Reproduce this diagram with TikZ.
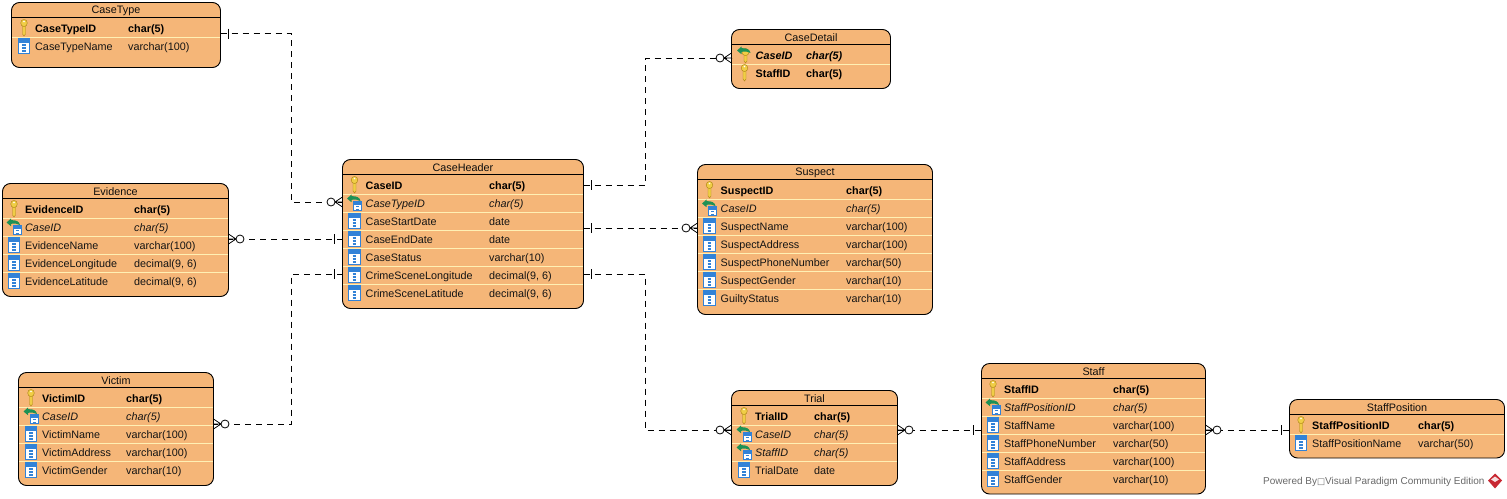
\documentclass[tikz,border=0pt]{standalone}
\usepackage{fontspec}
\setmainfont{Liberation Sans}
\newfontfamily\dvfont{DejaVu Sans}
\usetikzlibrary{calc}
\definecolor{bodyor}{RGB}{245,182,120}
\definecolor{seprow}{RGB}{255,240,180}
\definecolor{keyyel}{RGB}{240,205,70}
\definecolor{keyedge}{RGB}{170,130,20}
\definecolor{colblue}{RGB}{50,130,215}
\definecolor{fkgreen}{RGB}{30,145,85}
\definecolor{wmgray}{RGB}{105,105,105}
\definecolor{logored}{RGB}{200,40,50}
\tikzset{
  x=1pt,y=-1pt,
  entity/.style={draw=black,line width=0.9pt,fill=bodyor,rounded corners=8pt,inner sep=0pt,outer sep=0pt,anchor=north west},
  ttl/.style={font=\fontsize{10.8}{12}\selectfont,inner sep=0pt,anchor=center,text=black!95},
  rowcol/.style={font=\fontsize{10.8}{12}\selectfont,inner sep=0pt,anchor=base west,text=black!92},
  rowpk/.style={font=\fontsize{10.8}{12}\selectfont\bfseries,inner sep=0pt,anchor=base west,text=black},
  rowfk/.style={font=\fontsize{10.8}{12}\selectfont\itshape,inner sep=0pt,anchor=base west,text=black!92},
  rowpf/.style={font=\fontsize{10.8}{12}\selectfont\bfseries\itshape,inner sep=0pt,anchor=base west,text=black},
  conn/.style={draw=black,line width=0.8pt,dash pattern=on 6pt off 5pt},
  endmark/.style={draw=black,line width=0.8pt},
  icopk/.pic={
    \draw[keyedge,fill=keyyel,line width=0.4pt] (-1.5,-3) -- (-1.5,6) -- (0,8) -- (1.5,6) -- (1.5,-3) -- cycle;
    \draw[keyedge,fill=keyyel,line width=0.4pt] (0,-5) ellipse (3.3 and 3.6);
    \fill[white] (0,-6.5) circle (0.9);
  },
  icocol/.pic={
    \fill[white] (-6,-8) rectangle (6,8);
    \fill[colblue] (-6,-8) rectangle (6,-3.5);
    \draw[colblue,line width=0.9pt] (-5.6,-8) rectangle (5.6,7.6);
    \draw[colblue,line width=1.2pt] (-1.8,-1) -- (1.8,-1) (-1.8,2) -- (1.8,2) (-1.8,5) -- (1.8,5);
  },
  icofk/.pic={
    \fill[white] (-1,-1.5) rectangle (7.5,8);
    \fill[colblue] (-1,-1.5) rectangle (7.5,1.5);
    \draw[colblue,line width=0.7pt] (-0.7,-1.5) rectangle (7.2,7.6);
    \draw[colblue,line width=1pt] (1.5,3.5) -- (4.8,3.5) (1.5,6) -- (4.8,6);
    \fill[fkgreen] (-7.5,-4.5) -- (-3,-8.5) -- (-3,-6.8) .. controls (2,-7.2) and (5.5,-5.5) .. (6,-2)
       .. controls (3,-3.8) and (0,-3.8) .. (-3,-3.2) -- (-3,-0.8) -- cycle;
  },
  icopf/.pic={
    \draw[keyedge,fill=keyyel,line width=0.4pt] (-0.5,-2) -- (-0.5,6) -- (1,8) -- (2.5,6) -- (2.5,-2) -- cycle;
    \draw[keyedge,fill=keyyel,line width=0.4pt] (1,-3) ellipse (3.6 and 3.6);
    \fill[fkgreen] (-7.5,-4.5) -- (-3,-8.5) -- (-3,-6.8) .. controls (2,-7.2) and (5.5,-5.5) .. (6,-2)
       .. controls (3,-3.8) and (0,-3.8) .. (-3,-3.2) -- (-3,-0.8) -- cycle;
  },
}
% entity: name, x1,y1,x2,y2, title y, text x, type x
\newcommand{\ertable}[8]{%
  \pgfmathsetlengthmacro{\ew}{#4-#2}%
  \pgfmathsetlengthmacro{\eh}{#5-#3}%
  \node[entity,minimum width=\ew,minimum height=\eh] (#1) at (#2,#3) {};
  \node[ttl] (#1-title) at ({(#2+#4)/2},#6+0.9) {#1};
  \draw[black,line width=0.9pt] (#2,#6+7.5) -- (#4,#6+7.5);
  \xdef\erL{#2}\xdef\erR{#4}\xdef\erT{#7}\xdef\erC{#8}%
  \xdef\erName{#1}%
  \pgfmathsetmacro{\tmpy}{#6+18}\xdef\erY{\tmpy}%
  \gdef\erN{0}%
}
% row: kind (pk, fk, col, pf), name, type, draw separator below?
\newcommand{\errow}[4]{%
  \pgfmathtruncatemacro{\tmpn}{\erN+1}\xdef\erN{\tmpn}%
  \ifnum#4=1 \draw[seprow,line width=1pt] (\erL+0.6,\erY+9) -- (\erR-0.6,\erY+9);\fi
  \pic at (\erT-11,\erY) {ico#1};
  \node[row#1] (\erName-\erN) at (\erT,\erY+4.5) {#2};
  \node[row#1] (\erName-\erN-t) at (\erC,\erY+4.5) {#3};
  \pgfmathsetmacro{\tmpy}{\erY+18}\xdef\erY{\tmpy}%
}
% crow's foot with circle at end point (#1), direction sign #2 (+1 = marks lie to the right)
\newcommand{\crowend}[2]{%
  \draw[endmark,fill=white] ($(#1)+(#2*11.5,0)$) circle (4);
  \draw[endmark] ($(#1)+(#2*7.5,0)$) -- ($(#1)+(0,-5)$) ($(#1)+(#2*7.5,0)$) -- ($(#1)+(0,5)$) ($(#1)+(#2*7.5,0)$) -- (#1);
}
\newcommand{\barend}[2]{%
  \draw[endmark] ($(#1)+(#2*8,-5)$) -- ($(#1)+(#2*8,5)$);
}
\begin{document}
\begin{tikzpicture}
\useasboundingbox (0,0) rectangle (1507,498);
\fill[white] (0,0) rectangle (1507,498);

\ertable{CaseType}{11.5}{2.5}{220.5}{67.5}{10}{35}{128}
\errow{pk}{CaseTypeID}{char(5)}{1}
\errow{col}{CaseTypeName}{varchar(100)}{0}

\ertable{CaseDetail}{731.5}{29.5}{890.5}{88.5}{37}{755.5}{806}
\errow{pf}{CaseID}{char(5)}{1}
\errow{pk}{StaffID}{char(5)}{0}

\ertable{Evidence}{2.5}{183.5}{228.5}{296.5}{191}{25}{134}
\errow{pk}{EvidenceID}{char(5)}{1}
\errow{fk}{CaseID}{char(5)}{1}
\errow{col}{EvidenceName}{varchar(100)}{1}
\errow{col}{EvidenceLongitude}{decimal(9, 6)}{1}
\errow{col}{EvidenceLatitude}{decimal(9, 6)}{0}

\ertable{CaseHeader}{342.5}{159.5}{583.5}{308.5}{167}{365.5}{489}
\errow{pk}{CaseID}{char(5)}{1}
\errow{fk}{CaseTypeID}{char(5)}{1}
\errow{col}{CaseStartDate}{date}{1}
\errow{col}{CaseEndDate}{date}{1}
\errow{col}{CaseStatus}{varchar(10)}{1}
\errow{col}{CrimeSceneLongitude}{decimal(9, 6)}{1}
\errow{col}{CrimeSceneLatitude}{decimal(9, 6)}{0}

\ertable{Suspect}{697.5}{164.5}{932.5}{314.5}{172}{720.5}{846}
\errow{pk}{SuspectID}{char(5)}{1}
\errow{fk}{CaseID}{char(5)}{1}
\errow{col}{SuspectName}{varchar(100)}{1}
\errow{col}{SuspectAddress}{varchar(100)}{1}
\errow{col}{SuspectPhoneNumber}{varchar(50)}{1}
\errow{col}{SuspectGender}{varchar(10)}{1}
\errow{col}{GuiltyStatus}{varchar(10)}{0}

\ertable{Victim}{18.5}{372.5}{213.5}{485.5}{380}{42}{126}
\errow{pk}{VictimID}{char(5)}{1}
\errow{fk}{CaseID}{char(5)}{1}
\errow{col}{VictimName}{varchar(100)}{1}
\errow{col}{VictimAddress}{varchar(100)}{1}
\errow{col}{VictimGender}{varchar(10)}{0}

\ertable{Trial}{731.5}{390.5}{897.5}{485.5}{398}{755}{814}
\errow{pk}{TrialID}{char(5)}{1}
\errow{fk}{CaseID}{char(5)}{1}
\errow{fk}{StaffID}{char(5)}{1}
\errow{col}{TrialDate}{date}{0}

\ertable{Staff}{981.5}{363.5}{1205.5}{494}{371}{1004}{1113}
\errow{pk}{StaffID}{char(5)}{1}
\errow{fk}{StaffPositionID}{char(5)}{1}
\errow{col}{StaffName}{varchar(100)}{1}
\errow{col}{StaffPhoneNumber}{varchar(50)}{1}
\errow{col}{StaffAddress}{varchar(100)}{1}
\errow{col}{StaffGender}{varchar(10)}{0}

\ertable{StaffPosition}{1289.5}{399.5}{1504.5}{458}{407}{1312}{1418}
\errow{pk}{StaffPositionID}{char(5)}{1}
\errow{col}{StaffPositionName}{varchar(50)}{0}

% connector ends on the entity borders
\coordinate (a1) at ([yshift=-31pt]CaseType.north east);
\coordinate (a2) at ([yshift=-42.5pt]CaseHeader.north west);
\coordinate (b1) at ([yshift=-25.5pt]CaseHeader.north east);
\coordinate (b2) at ([yshift=-28.5pt]CaseDetail.north west);
\coordinate (c1) at ([yshift=-68.5pt]CaseHeader.north east);
\coordinate (c2) at ([yshift=-63.5pt]Suspect.north west);
\coordinate (d1) at ([yshift=-114.5pt]CaseHeader.north east);
\coordinate (d2) at ([yshift=-39.5pt]Trial.north west);
\coordinate (e1) at ([yshift=-79.5pt]CaseHeader.north west);
\coordinate (e2) at ([yshift=-55.5pt]Evidence.north east);
\coordinate (f1) at ([yshift=-114.5pt]CaseHeader.north west);
\coordinate (f2) at ([yshift=-51.5pt]Victim.north east);
\coordinate (g1) at ([yshift=-39.5pt]Trial.north east);
\coordinate (g2) at ([yshift=-66.5pt]Staff.north west);
\coordinate (h1) at ([yshift=-66.5pt]Staff.north east);
\coordinate (h2) at ([yshift=-30.5pt]StaffPosition.north west);

\draw[conn] (a1) -- (291,33.5) -- (291,202) -- (a2);
\draw[conn] (b1) -- (645,185) -- (645,58) -- (b2);
\draw[conn] (c1) -- (c2);
\draw[conn] (d1) -- (645,274) -- (645,430) -- (d2);
\draw[conn] (e1) -- (e2);
\draw[conn] (f1) -- (291,274) -- (291,424) -- (f2);
\draw[conn] (g1) -- (g2);
\draw[conn] (h1) -- (h2);

\barend{a1}{1} \crowend{a2}{-1}
\barend{b1}{1} \crowend{b2}{-1}
\barend{c1}{1} \crowend{c2}{-1}
\barend{d1}{1} \crowend{d2}{-1}
\barend{e1}{-1} \crowend{e2}{1}
\barend{f1}{-1} \crowend{f2}{1}
\crowend{g1}{1} \barend{g2}{-1}
\crowend{h1}{1} \barend{h2}{-1}

% watermark
\node[inner sep=0pt,anchor=base west,text=wmgray,font=\fontsize{10}{11}\selectfont] (wm) at (1263,484.8) {Powered By{\dvfont\fontsize{8.5}{9}\selectfont □}Visual Paradigm Community Edition};
\fill[logored] (1495,473.5) -- (1502,480.5) -- (1495,488.5) -- (1488,480.5) -- cycle;
\fill[white!85!logored] (1495,476.5) -- (1499,479.5) -- (1495,482) -- (1491,479.5) -- cycle;
\end{tikzpicture}
\end{document}
